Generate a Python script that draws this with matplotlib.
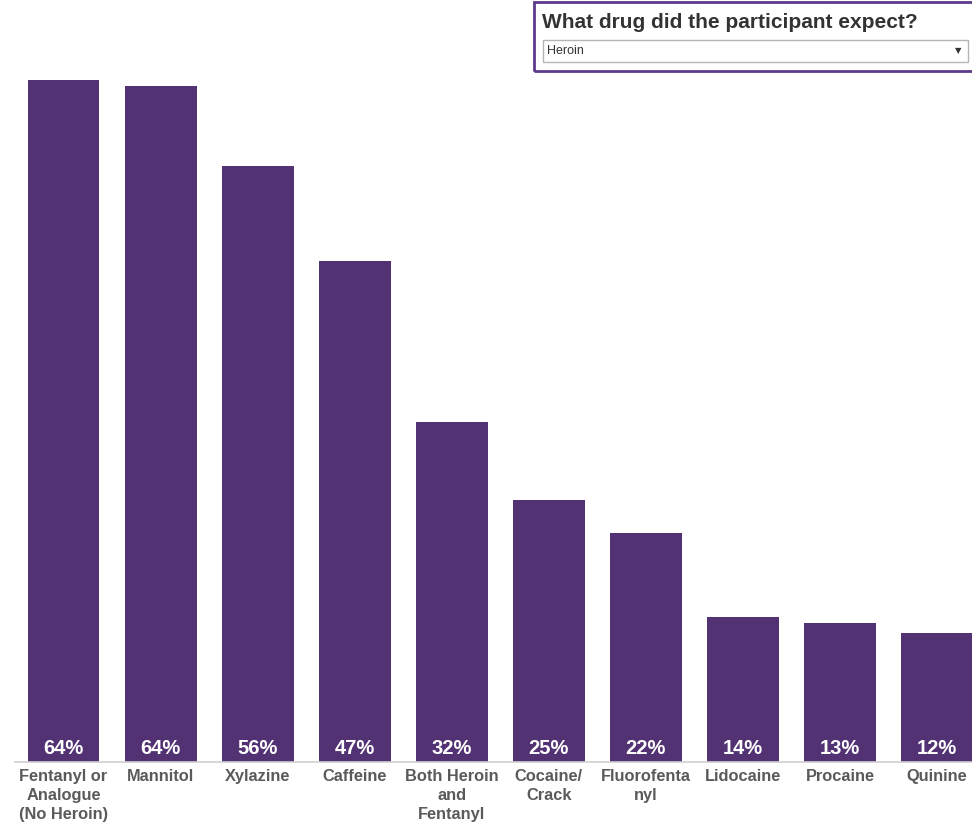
import matplotlib
matplotlib.use("Agg")
import matplotlib.pyplot as plt
from matplotlib.patches import Rectangle

# данные с картинки
categories = ["Fentanyl or\nAnalogue\n(No Heroin)", "Mannitol", "Xylazine", "Caffeine",
              "Both Heroin\nand\nFentanyl", "Cocaine/\nCrack", "Fluorofenta\nnyl",
              "Lidocaine", "Procaine", "Quinine"]
values = [64.0, 63.4, 55.9, 47.0, 31.9, 24.6, 21.5, 13.6, 13.0, 12.1]
labels = ["64%", "64%", "56%", "47%", "32%", "25%", "22%", "14%", "13%", "12%"]

plt.rcParams['font.family'] = ['Liberation Sans', 'DejaVu Sans']

W, H = 972, 825
fig = plt.figure(figsize=(W / 100, H / 100), dpi=100)
ax = fig.add_axes([15 / W, (H - 762) / H, (W - 15) / W, 682 / H])

x = list(range(len(values)))
ax.bar(x, values, width=0.74, color="#533274")
for xi, lab in zip(x, labels):
    ax.text(xi, 0.4, lab, ha="center", va="bottom", color="white",
            fontsize=14.5, fontweight="bold")

ax.set_xlim(-0.5, 9.36)
ax.set_ylim(0, 64.0)
ax.set_xticks(x)
ax.set_xticklabels(categories, fontsize=11.8, fontweight="bold", color="#5a5a5a",
                   linespacing=1.35)
ax.tick_params(axis="x", length=0, pad=5)
ax.set_yticks([])
for s in ["top", "right", "left"]:
    ax.spines[s].set_visible(False)
ax.spines["bottom"].set_color("#cfcfcf")
ax.spines["bottom"].set_linewidth(1.2)

# фильтр (выпадающий список) сверху справа
fig.patches.append(Rectangle((534 / W, (H - 71) / H), (W - 534 + 5) / W, 69 / H,
                             transform=fig.transFigure, fill=False,
                             edgecolor="#5b3a8a", linewidth=2))
fig.text(542 / W, (H - 22) / H, "What drug did the participant expect?",
         fontsize=15, fontweight="bold", color="#333333", va="center")
fig.patches.append(Rectangle((543 / W, (H - 62) / H), 425 / W, 22 / H,
                             transform=fig.transFigure, fill=False,
                             edgecolor="#b5b5b5", linewidth=1))
fig.text(547 / W, (H - 51) / H, "Heroin", fontsize=9, color="#333333", va="center")
fig.text(958 / W, (H - 51) / H, "▼", fontsize=6, color="#333333",
         va="center", ha="center", family="DejaVu Sans")

fig.savefig("out.png", dpi=100)
plt.close()
